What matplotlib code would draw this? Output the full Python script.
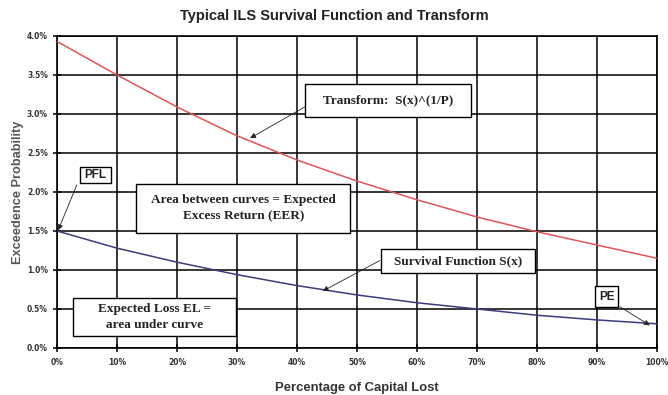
import numpy as np
import matplotlib.pyplot as plt
from matplotlib.patches import Rectangle
from matplotlib.ticker import FuncFormatter

# values (percent)
capital_lost = [0, 10, 20, 30, 40, 50, 60, 70, 80, 90, 100]
transform = [3.93, 3.50, 3.09, 2.72, 2.41, 2.14, 1.90, 1.68, 1.49, 1.32, 1.15]
survival = [1.50, 1.28, 1.10, 0.94, 0.80, 0.68, 0.58, 0.50, 0.42, 0.36, 0.31]

RED = "#e05555"
BLUE = "#3b3b7e"

fig = plt.figure(figsize=(6.68, 3.95), dpi=100)
ax = fig.add_axes([0.0853, 0.119, 0.8982, 0.790])

ax.plot(capital_lost, transform, color=RED, lw=1.1, zorder=3)
ax.plot(capital_lost, survival, color=BLUE, lw=1.1, zorder=3)

ax.set_xlim(0, 100)
ax.set_ylim(0, 4.0)
ax.set_xticks(np.arange(0, 101, 10))
ax.set_yticks(np.arange(0, 4.01, 0.5))
ax.xaxis.set_major_formatter(FuncFormatter(lambda v, p: f"{v:.0f}%"))
ax.yaxis.set_major_formatter(FuncFormatter(lambda v, p: f"{v:.1f}%"))
ax.grid(True, color="black", lw=1.1)
ax.set_axisbelow(True)
for s in ax.spines.values():
    s.set_linewidth(1.2)
ax.tick_params(axis="both", direction="inout", length=6, width=1.1,
               labelsize=5.5, colors="black")
for lab in ax.get_xticklabels() + ax.get_yticklabels():
    lab.set_fontweight("bold")
    lab.set_color("#333333")
ax.tick_params(axis="x", pad=4)

fig.text(0.5, 1 - 16 / 395, "Typical ILS Survival Function and Transform",
         ha="center", va="center", fontsize=10.5, fontweight="bold",
         color="#222222", family="Liberation Sans")
ax.set_xlabel("Percentage of Capital Lost", fontsize=9.4, fontweight="bold",
              color="#333333", labelpad=11, family="Liberation Sans")
ax.set_ylabel("Exceedence Probability", fontsize=9.2, fontweight="bold",
              color="#555555", labelpad=2, family="Liberation Sans")

# annotation boxes: (x0, y0, width, height, text, family, size)
boxes = [
    (41.3, 2.96, 27.7, 0.42, "Transform:  S(x)^(1/P)", "Liberation Serif", 9.5),
    (3.8, 2.11, 5.2, 0.21, "PFL", "Liberation Sans", 8.5),
    (13.2, 1.48, 35.7, 0.62, "Area between curves = Expected\nExcess Return (EER)", "Liberation Serif", 9.5),
    (54.0, 0.96, 25.7, 0.31, "Survival Function S(x)", "Liberation Serif", 9.5),
    (2.7, 0.15, 27.2, 0.49, "Expected Loss EL =\narea under curve", "Liberation Serif", 9.5),
    (89.7, 0.53, 3.8, 0.26, "PE", "Liberation Sans", 8.5),
]
for x0, y0, w, h, txt, fam, size in boxes:
    ax.add_patch(Rectangle((x0, y0), w, h, facecolor="white", edgecolor="black",
                           lw=1.0, zorder=5))
    ax.text(x0 + w / 2, y0 + h / 2, txt, ha="center", va="center",
            fontsize=size, fontweight="bold", family=fam, color="#222222",
            zorder=6, linespacing=1.5)

# arrows: (tail, head)
arrows = [
    ((41.3, 3.09), (32.2, 2.69)),
    ((3.3, 2.09), (0.2, 1.51)),
    ((53.8, 1.12), (44.3, 0.73)),
    ((93.8, 0.53), (98.8, 0.29)),
]
for tail, head in arrows:
    ax.annotate("", xy=head, xytext=tail,
                arrowprops=dict(arrowstyle="-|>", color="#222222", lw=0.6,
                                mutation_scale=8, shrinkA=0, shrinkB=0),
                zorder=6)

fig.savefig("out.png", dpi=100)
